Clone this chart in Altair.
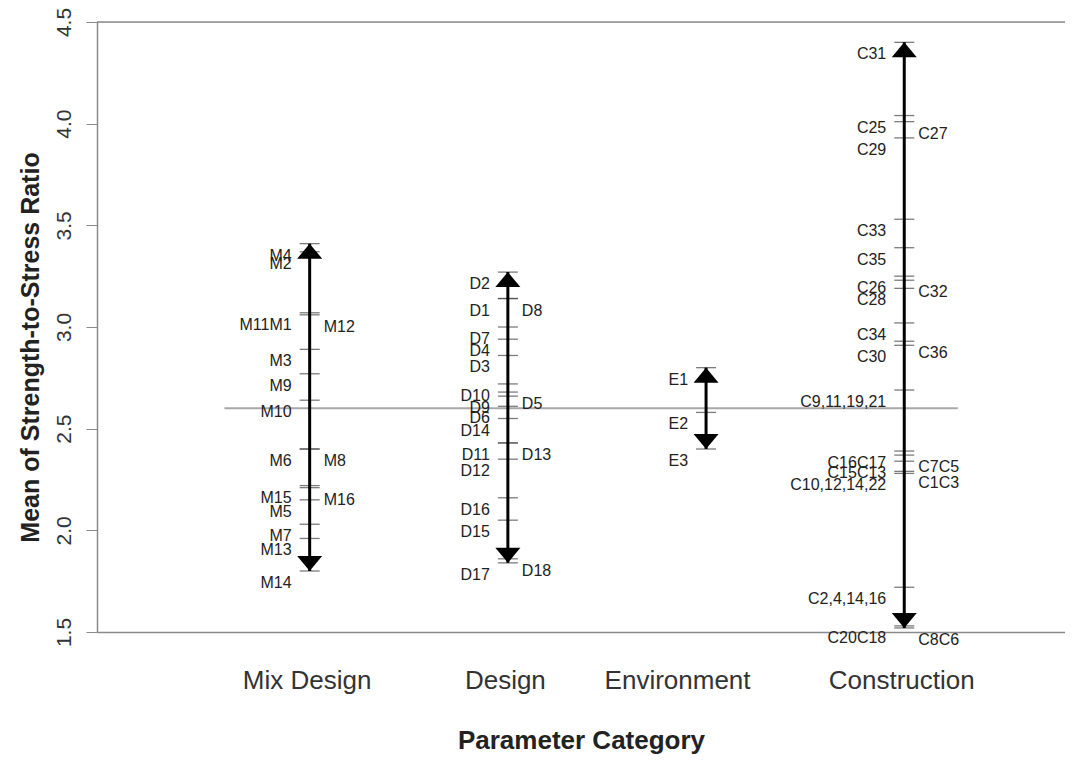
import altair as alt
import pandas as pd

categories = ["Mix Design", "Design", "Environment", "Construction"]

mix_labels = ["M4", "M2", "M11M1", "M12", "M3", "M9", "M10", "M6", "M8",
              "M15", "M16", "M5", "M7", "M13", "M14"]
mix_values = [3.41, 3.37, 3.07, 3.06, 2.89, 2.77, 2.64, 2.40, 2.40,
              2.22, 2.21, 2.15, 2.03, 1.96, 1.80]
mix_sides = ["L", "L", "L", "R", "L", "L", "L", "L", "R",
             "L", "R", "L", "L", "L", "L"]

design_labels = ["D2", "D1", "D8", "D7", "D4", "D3", "D10", "D5", "D9",
                 "D6", "D14", "D11", "D13", "D12", "D16", "D15", "D17", "D18"]
design_values = [3.27, 3.14, 3.14, 3.00, 2.94, 2.86, 2.72, 2.68, 2.66,
                 2.61, 2.55, 2.43, 2.43, 2.35, 2.16, 2.05, 1.84, 1.86]
design_sides = ["L", "L", "R", "L", "L", "L", "L", "R", "L",
                "L", "L", "L", "R", "L", "L", "L", "L", "R"]

env_labels = ["E1", "E2", "E3"]
env_values = [2.80, 2.58, 2.40]
env_sides = ["L", "L", "L"]

cons_labels = ["C31", "C25", "C27", "C29", "C33", "C35", "C26", "C32", "C28",
               "C34", "C36", "C30", "C9,11,19,21", "C16C17", "C7C5", "C15C13",
               "C10,12,14,22", "C1C3", "C2,4,14,16", "C20C18", "C8C6"]
cons_values = [4.40, 4.04, 4.01, 3.93, 3.53, 3.39, 3.25, 3.23, 3.19,
               3.02, 2.93, 2.91, 2.69, 2.39, 2.37, 2.34,
               2.28, 2.29, 1.72, 1.53, 1.52]
cons_sides = ["L", "L", "R", "L", "L", "L", "L", "R", "L",
              "L", "R", "L", "L", "L", "R", "L",
              "L", "R", "L", "L", "R"]

mean_value = 2.6
mean_span = [0.57, 4.27]

groups = [
    (mix_labels, mix_values, mix_sides),
    (design_labels, design_values, design_sides),
    (env_labels, env_values, env_sides),
    (cons_labels, cons_values, cons_sides),
]

rows = []
for i, (labs, vals, sides) in enumerate(groups):
    for l, v, s in zip(labs, vals, sides):
        rows.append({"cat": categories[i], "pos": i + 1, "label": l, "value": v, "side": s})
df = pd.DataFrame(rows)

rng = df.groupby("pos").agg(vmin=("value", "min"), vmax=("value", "max")).reset_index()
mean_df = pd.DataFrame({"x0": [mean_span[0]], "x1": [mean_span[1]], "value": [mean_value]})

W, H = 968, 610
FONT = "Liberation Sans"

xscale = alt.Scale(domain=[-0.073, 4.811], nice=False, zero=False)
yscale = alt.Scale(domain=[1.5, 4.5], nice=False, zero=False)

label_expr = "['', " + ", ".join("'%s'" % c for c in categories) + "][datum.value]"
xaxis = alt.Axis(
    title="Parameter Category", values=[1, 2, 3, 4], labelExpr=label_expr,
    ticks=False, tickSize=0, domain=True, domainColor="#8a8a8a", domainWidth=1.5,
    grid=False, labelFontSize=26, labelFont=FONT, labelColor="#333333",
    labelPadding=35, labelOverlap=False, labelFlush=False,
    labelOffset={"condition": {"test": "datum.value == 3", "value": -29}, "value": -3},
    titleFontSize=26, titleFont=FONT, titleFontWeight="bold", titleColor="#222222",
    titleX=W / 2, titleY=108, titleBaseline="middle", titleAlign="center",
)
yaxis = alt.Axis(
    title="Mean of Strength-to-Stress Ratio", values=[1.5, 2, 2.5, 3, 3.5, 4, 4.5],
    format=".1f", grid=False, domain=True, domainColor="#8a8a8a", domainWidth=1.5,
    ticks=True, tickSize=11, tickColor="#8a8a8a", tickWidth=1,
    labelAngle=270, labelAlign="center", labelBaseline="alphabetic",
    labelPadding=16, labelFontSize=21, labelFont=FONT, labelColor="#333333",
    labelOverlap=False, labelFlush=False,
    titleFontSize=25, titleFont=FONT, titleFontWeight="bold", titleColor="#222222",
    titleAngle=270, titleX=-67, titleY=H / 2 + 20, titleAlign="center", titleBaseline="middle",
)

base = alt.Chart(df)

mean_rule = alt.Chart(mean_df).mark_rule(color="#a8a8a8", strokeWidth=2).encode(
    x=alt.X("x0:Q", scale=xscale, axis=xaxis),
    x2="x1:Q",
    y=alt.Y("value:Q", scale=yscale, axis=yaxis),
)

top_rule = alt.Chart(mean_df).mark_rule(color="#8a8a8a", strokeWidth=1.5).encode(
    y=alt.Y(datum=4.5, scale=yscale, axis=yaxis),
    x=alt.value(0),
    x2=alt.value("width"),
)

ticks = base.mark_tick(orient="horizontal", size=20, thickness=1.3, color="#444444").encode(
    x=alt.X("pos:Q", scale=xscale, axis=xaxis),
    y=alt.Y("value:Q", scale=yscale, axis=yaxis),
)

shafts = alt.Chart(rng).mark_rule(color="black", strokeWidth=3).encode(
    x=alt.X("pos:Q", scale=xscale, axis=xaxis),
    y=alt.Y("vmin:Q", scale=yscale, axis=yaxis),
    y2="vmax:Q",
)

head_up = alt.Chart(rng).mark_point(
    shape="M0,0L-1,1.2L1,1.2Z", filled=True, color="black", opacity=1, size=625, strokeWidth=0
).encode(
    x=alt.X("pos:Q", scale=xscale, axis=xaxis),
    y=alt.Y("vmax:Q", scale=yscale, axis=yaxis),
)

head_down = alt.Chart(rng).mark_point(
    shape="M0,0L-1,-1.2L1,-1.2Z", filled=True, color="black", opacity=1, size=625, strokeWidth=0
).encode(
    x=alt.X("pos:Q", scale=xscale, axis=xaxis),
    y=alt.Y("vmin:Q", scale=yscale, axis=yaxis),
)

left_text = base.transform_filter(alt.datum.side == "L").mark_text(
    align="right", baseline="middle", dx=-18, dy=12, fontSize=16, font=FONT, color="#222222"
).encode(
    x=alt.X("pos:Q", scale=xscale, axis=xaxis),
    y=alt.Y("value:Q", scale=yscale, axis=yaxis),
    text="label:N",
)

right_text = base.transform_filter(alt.datum.side == "R").mark_text(
    align="left", baseline="middle", dx=14, dy=12, fontSize=16, font=FONT, color="#222222"
).encode(
    x=alt.X("pos:Q", scale=xscale, axis=xaxis),
    y=alt.Y("value:Q", scale=yscale, axis=yaxis),
    text="label:N",
)

chart = alt.layer(
    mean_rule, top_rule, ticks, shafts, head_up, head_down, left_text, right_text
).properties(
    width=W, height=H,
    autosize=alt.AutoSizeParams(type="none"),
    padding={"left": 89, "top": 14, "right": 0, "bottom": 125},
).configure_view(stroke=None).configure(background="white")

chart.save("out.html", embed_options={"renderer": "svg", "actions": False})
